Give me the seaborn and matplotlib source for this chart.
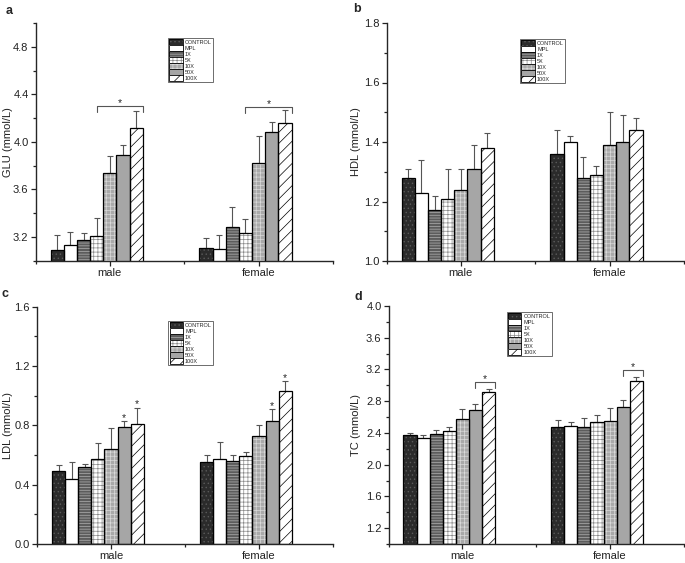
import numpy as np
import pandas as pd
import matplotlib
matplotlib.use('Agg')
import matplotlib.pyplot as plt
import seaborn as sns
from matplotlib.patches import Patch
from matplotlib.ticker import MultipleLocator, FormatStrFormatter

# categories
groups = ['CONTROL', 'MPL', '1X', '5X', '10X', '50X', '100X']
sexes = ['male', 'female']

# GLU (mean and SD)
glu_male = [3.09, 3.13, 3.17, 3.21, 3.74, 3.89, 4.12]
glu_male_sd = [0.13, 0.11, 0.06, 0.15, 0.14, 0.08, 0.14]
glu_female = [3.11, 3.10, 3.28, 3.23, 3.82, 4.08, 4.16]
glu_female_sd = [0.08, 0.12, 0.17, 0.12, 0.23, 0.09, 0.11]

# HDL
hdl_male = [1.28, 1.23, 1.17, 1.21, 1.24, 1.31, 1.38]
hdl_male_sd = [0.03, 0.11, 0.05, 0.10, 0.07, 0.08, 0.05]
hdl_female = [1.36, 1.40, 1.28, 1.29, 1.39, 1.40, 1.44]
hdl_female_sd = [0.08, 0.02, 0.07, 0.03, 0.11, 0.09, 0.04]

# LDL
ldl_male = [0.49, 0.44, 0.52, 0.57, 0.64, 0.79, 0.81]
ldl_male_sd = [0.04, 0.11, 0.02, 0.11, 0.14, 0.04, 0.11]
ldl_female = [0.55, 0.57, 0.56, 0.59, 0.73, 0.83, 1.03]
ldl_female_sd = [0.05, 0.12, 0.04, 0.03, 0.07, 0.08, 0.07]

# TC
tc_male = [2.37, 2.33, 2.39, 2.43, 2.58, 2.69, 2.92]
tc_male_sd = [0.03, 0.05, 0.05, 0.05, 0.12, 0.08, 0.04]
tc_female = [2.48, 2.49, 2.48, 2.54, 2.55, 2.73, 3.06]
tc_female_sd = [0.08, 0.05, 0.11, 0.08, 0.17, 0.09, 0.05]

# bar fills, hatches and hatch colours per group
fills = ['#2b2b2b', 'white', '#5c5c5c', 'white', '#a9a9a9', '#a6a6a6', 'white']
hatches = ['....', '', '------', '++++', '++++', '', '///']
hatch_colors = ['#5a5a5a', 'white', '#b0b0b0', '#8a8a8a', '#dadada', '#a6a6a6', 'black']

sns.set_style('ticks')
plt.rcParams['font.family'] = ['Liberation Sans', 'DejaVu Sans']
plt.rcParams['hatch.linewidth'] = 0.5

W, H = 685, 563
fig = plt.figure(figsize=(W / 100, H / 100), dpi=100)


def draw_panel(rect, male, male_sd, female, female_sd, ylabel, ylim, step,
               legend_xy, label_x, brackets=(), stars=()):
    ax = fig.add_axes(rect)
    df = pd.DataFrame({
        'sex': ['male'] * 7 + ['female'] * 7,
        'group': groups * 2,
        'value': male + female,
        'sd': male_sd + female_sd,
    })
    sns.barplot(data=df, x='sex', y='value', hue='group', order=sexes,
                hue_order=groups, width=0.62, gap=0, errorbar=None,
                legend=False, saturation=1, linewidth=0, ax=ax)

    # style bars and remember their geometry
    pos = {}
    for i, cont in enumerate(ax.containers):
        for bar in cont:
            bar.set_facecolor(fills[i])
            bar.set_edgecolor(hatch_colors[i])
            bar.set_hatch(hatches[i])
            cx = bar.get_x() + bar.get_width() / 2
            pos[(sexes[int(round(cx))], groups[i])] = (cx, bar.get_x() + bar.get_width())

    # black outlines on top of the hatched fills
    sns.barplot(data=df, x='sex', y='value', hue='group', order=sexes,
                hue_order=groups, width=0.62, gap=0, errorbar=None,
                legend=False, fill=False, palette=['black'] * 7,
                linewidth=0.9, ax=ax)

    xs = [pos[(s, g)][0] for s, g in zip(df['sex'], df['group'])]
    ax.errorbar(xs, df['value'], yerr=[np.zeros(len(df)), df['sd']], fmt='none',
                ecolor='#555555', elinewidth=0.8, capsize=2.2, capthick=0.8,
                zorder=0.9)

    top = dict(zip(zip(df['sex'], df['group']), df['value'] + df['sd']))
    drop = 0.025 * (ylim[1] - ylim[0])
    for sex, g1, g2, y in brackets:
        x1 = pos[(sex, g1)][0]
        x2 = pos[(sex, g2)][1]
        ax.plot([x1, x1, x2, x2], [y - drop, y, y, y - drop], color='#555555', lw=0.8)
        ax.text((x1 + x2) / 2, y, '*', ha='center', va='baseline', fontsize=7.5)
    for sex, g in stars:
        ax.text(pos[(sex, g)][0], top[(sex, g)], '*', ha='center', va='baseline',
                fontsize=7.5)

    # x ticks sit on the 10X bar, like in the original
    ticks = [pos[(s, '10X')][0] for s in sexes]
    ax.set_xticks(ticks)
    ax.set_xticklabels(sexes)
    ax.set_xticks([ticks[0] - 0.5, ticks[0] + 0.5, ticks[1] + 0.5], minor=True)
    ax.set_xlim(ticks[0] - 0.5, ticks[1] + 0.5)
    ax.set_ylim(*ylim)
    ax.yaxis.set_major_locator(MultipleLocator(step))
    ax.yaxis.set_minor_locator(MultipleLocator(step / 2))
    ax.yaxis.set_major_formatter(FormatStrFormatter('%.1f'))
    ax.tick_params(which='both', direction='out', width=0.9, labelsize=8, pad=1.5,
                   colors='#222222')
    ax.tick_params(which='major', length=3.5)
    ax.tick_params(which='minor', length=2)
    sns.despine(ax=ax)
    for sp in ['left', 'bottom']:
        ax.spines[sp].set_linewidth(1.0)
    ax.set_xlabel('')
    ax.set_ylabel(ylabel, fontsize=8, color='#222222')
    ax.yaxis.set_label_coords(label_x, 0.5)

    handles = [(Patch(facecolor=f, hatch=h, edgecolor=hc, linewidth=0),
                Patch(fill=False, edgecolor='black', linewidth=0.6))
               for f, h, hc in zip(fills, hatches, hatch_colors)]
    leg = ax.legend(handles=handles, labels=groups, loc='upper left',
                    bbox_to_anchor=legend_xy,
                    fontsize=4, frameon=True, fancybox=False, edgecolor='#555555',
                    framealpha=1, borderpad=0.25, labelspacing=0.05,
                    handlelength=2.4, handleheight=1.2, handletextpad=0.4,
                    borderaxespad=0)
    leg.get_frame().set_linewidth(0.6)
    return ax


def frac(l, t, r, b):
    return [l / W, 1 - b / H, (r - l) / W, (b - t) / H]


draw_panel(frac(35.5, 23, 333, 260.7), glu_male, glu_male_sd, glu_female, glu_female_sd,
           'GLU (mmol/L)', (3.0, 5.0), 0.4, (0.445, 0.938), -0.076,
           brackets=[('male', '5X', '100X', 4.30), ('female', '5X', '100X', 4.29)])
draw_panel(frac(386.5, 23, 684, 261), hdl_male, hdl_male_sd, hdl_female, hdl_female_sd,
           'HDL (mmol/L)', (1.0, 1.8), 0.2, (0.449, 0.933), -0.086)
draw_panel(frac(37, 306.7, 333, 544), ldl_male, ldl_male_sd, ldl_female, ldl_female_sd,
           'LDL (mmol/L)', (0.0, 1.6), 0.4, (0.443, 0.941), -0.081,
           stars=[('male', '50X'), ('male', '100X'), ('female', '50X'), ('female', '100X')])
draw_panel(frac(388.5, 306, 684, 544), tc_male, tc_male_sd, tc_female, tc_female_sd,
           'TC (mmol/L)', (1.0, 4.0), 0.4, (0.40, 0.976), -0.093,
           brackets=[('male', '50X', '100X', 3.04), ('female', '50X', '100X', 3.19)])

# panel letters
for letter, x, y in [('a', 9.5, 10.5), ('b', 357, 8.5), ('c', 5, 294), ('d', 358, 297)]:
    fig.text(x / W, 1 - y / H, letter, fontsize=9, fontweight='bold',
             ha='center', va='center')

fig.savefig('out.png', dpi=100)
